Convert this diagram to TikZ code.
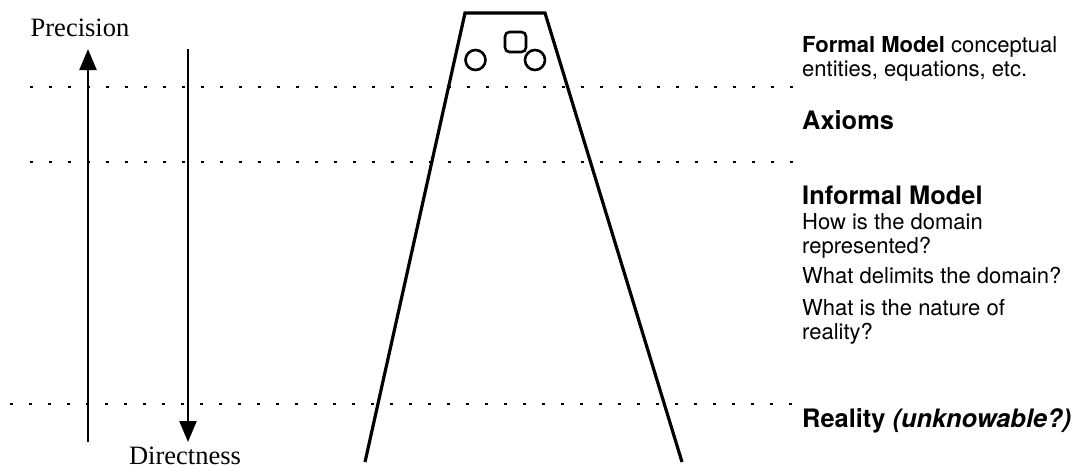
\documentclass[tikz,border=0pt]{standalone}
\usepackage{fontspec}
\setmainfont{TeX Gyre Heros}
\newfontfamily\serifface{Liberation Serif}
\usetikzlibrary{arrows.meta}

\tikzset{
  level/.style={line width=1.2pt, dash pattern=on 2.8pt off 16.2pt},
  axisarrow/.style={line width=2.2pt, -{Triangle[length=21pt, width=17pt]}},
  side/.style={anchor=base, font=\serifface\fontsize{26.5}{28}\selectfont},
  txt/.style={anchor=base west, inner sep=0pt, font=\fontsize{22}{24}\selectfont},
  head/.style={anchor=base west, inner sep=0pt, font=\bfseries\fontsize{25.4}{27}\selectfont},
}

\begin{document}
\begin{tikzpicture}[x=1pt, y=-1pt]
\useasboundingbox (0,0) rectangle (1075,469);

% dotted level lines
\draw[level] (30,87) -- (808,87);
\draw[level] (30,162) -- (808,162);
\draw[level] (10,404) -- (806,404);

% precision / directness arrows
\coordinate (pbot) at (88,442);
\coordinate (ptop) at (88,49);
\coordinate (dtop) at (188,49);
\coordinate (dbot) at (188,442);
\draw[axisarrow] (pbot) -- (ptop);
\draw[axisarrow] (dtop) -- (dbot);
\node[side] (prec) at (80,36) {Precision};
\node[side] (dir) at (185,464) {Directness};

% the open trapezoid
\coordinate (bl) at (365,462);
\coordinate (tl) at (465,13);
\coordinate (tr) at (545,13);
\coordinate (br) at (682,462);
\draw[line width=3.2pt, line join=miter] (bl) -- (tl) -- (tr) -- (br);

% entities at the top
\draw[line width=2.6pt] (475.5,60) circle (10pt);
\draw[line width=2.6pt] (535,60) circle (10pt);
\draw[line width=2.6pt, rounded corners=4.5pt] (505,32) rectangle (526,52);

% labels on the right
\node[txt] (formal1) at (802,52) {\textbf{Formal Model} conceptual};
\node[txt] (formal2) at (802,76) {entities, equations, etc.};
\node[head] (axioms) at (802,129) {Axioms};
\node[head] (informal) at (802,204) {Informal Model};
\node[txt] (qa1) at (802,229) {How is the domain};
\node[txt] (qa2) at (802,253) {represented?};
\node[txt] (qb) at (802,283) {What delimits the domain?};
\node[txt] (qc1) at (802,315) {What is the nature of};
\node[txt] (qc2) at (802,339) {reality?};
\node[head] (reality) at (802,427) {Reality \textit{(unknowable?)}};
\end{tikzpicture}
\end{document}
